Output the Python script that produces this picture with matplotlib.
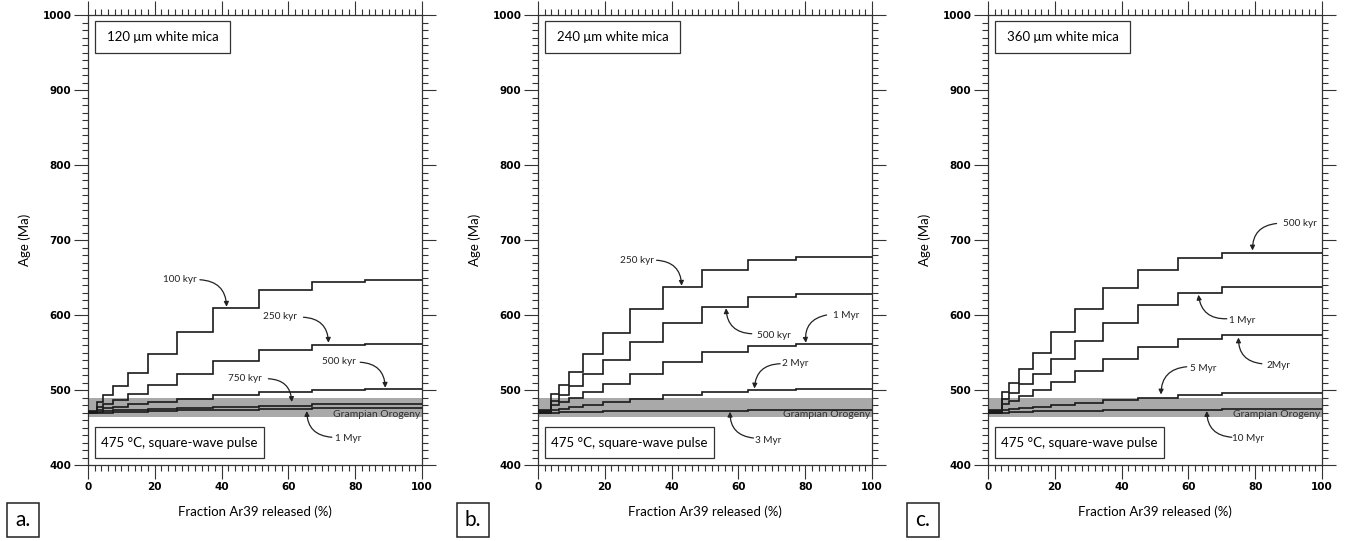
import matplotlib
matplotlib.use('Agg')
import matplotlib.pyplot as plt
from matplotlib.patches import Rectangle
from matplotlib.ticker import MultipleLocator

# step edges (fraction Ar39 released, %) for each grain size
edges_a = [0, 2.6, 4.6, 7.6, 12, 18, 26.5, 37.5, 51.3, 67, 83, 100]
edges_b = [0, 3.8, 6.3, 9.4, 13.6, 19.6, 27.5, 37.3, 49, 62.8, 77.2, 100]
edges_c = [0, 4.3, 6.4, 9.4, 13.4, 18.9, 25.9, 34.3, 44.8, 57, 70, 100]

# apparent ages (Ma) of every step, per pulse duration
ages_a_100kyr = [472, 484, 493, 506, 523, 548, 578, 609, 633, 644, 647]
ages_a_250kyr = [471, 477, 481, 487, 495, 507, 522, 539, 553, 560, 561]
ages_a_500kyr = [470.5, 474, 476, 478, 481, 484, 488, 493, 497, 500, 501]
ages_a_750kyr = [470, 471, 472, 473, 474, 475, 476, 478, 479, 481, 482]
ages_a_1myr = [469.5, 469.5, 470, 470.5, 471, 472, 473, 474, 475, 476, 476]

ages_b_250kyr = [473, 495, 507, 524, 548, 576, 608, 637, 660, 673, 677]
ages_b_500kyr = [472, 485, 493, 505, 521, 540, 564, 590, 611, 624, 628]
ages_b_1myr = [471, 480, 484, 490, 497, 508, 522, 538, 551, 559, 561]
ages_b_2myr = [470, 473, 475, 477, 480, 484, 488, 493, 497, 500, 501]
ages_b_3myr = [469.5, 470, 470.5, 471, 471, 471.5, 472, 472, 472.5, 473, 473]

ages_c_500kyr = [473, 497, 510, 528, 550, 578, 608, 636, 660, 676, 683]
ages_c_1myr = [472, 488, 496, 508, 522, 542, 565, 590, 613, 629, 638]
ages_c_2myr = [471, 481, 486, 492, 500, 511, 525, 541, 557, 568, 573]
ages_c_5myr = [470, 473, 475, 476, 478, 480, 483, 487, 490, 493, 496]
ages_c_10myr = [469.5, 470, 470.5, 471, 471.5, 472, 472.5, 473, 473.5, 474, 475]

grampian = (464, 489)  # Ma

# label, text pos, arrow start, arrow tip, curvature
notes_a = [('100 kyr', (27.5, 647), (33.5, 647), (41.5, 611), -0.45),
           ('250 kyr', (57.5, 598), (64.5, 597), (72, 563), -0.45),
           ('500 kyr', (75, 538), (81.5, 537), (89, 503), -0.45),
           ('750 kyr', (47, 516), (54, 515), (61, 484), -0.45),
           ('1 Myr', (78, 436), (73, 437), (65.5, 472), -0.45)]
notes_b = [('250 kyr', (29.5, 673), (35.5, 673), (43, 639), -0.45),
           ('500 kyr', (70.5, 573), (64, 575), (56.3, 609), -0.45),
           ('1 Myr', (92.4, 600), (86.4, 600), (80.2, 563), 0.45),
           ('2 Myr', (77, 536), (72.5, 535), (64.8, 502), 0.45),
           ('3 Myr', (69, 433), (64.5, 436), (57.5, 471), -0.45)]
notes_c = [('500 kyr', (93.4, 722), (86.4, 722), (79.2, 686), 0.45),
           ('1 Myr', (76, 593), (71.5, 595), (63, 627), -0.45),
           ('2Myr', (87, 533), (82, 535), (75, 570), -0.45),
           ('5 Myr', (64.5, 529), (59.5, 531), (51.8, 494), 0.45),
           ('10 Myr', (78, 436), (73, 437), (65.5, 472), -0.45)]

panels = [
    ('a.', '120 \u03bcm white mica', edges_a,
     [ages_a_100kyr, ages_a_250kyr, ages_a_500kyr, ages_a_750kyr, ages_a_1myr], notes_a),
    ('b.', '240 \u03bcm white mica', edges_b,
     [ages_b_250kyr, ages_b_500kyr, ages_b_1myr, ages_b_2myr, ages_b_3myr], notes_b),
    ('c.', '360 \u03bcm white mica', edges_c,
     [ages_c_500kyr, ages_c_1myr, ages_c_2myr, ages_c_5myr, ages_c_10myr], notes_c),
]

W, H = 1353, 541
fig = plt.figure(figsize=(W / 100, H / 100), dpi=100)

TXT = ['Lato', 'DejaVu Sans']
TICK = ['Liberation Sans Narrow', 'DejaVu Sans']
lefts = [88, 538, 988]

for (letter, size_lbl, edges, curves, notes), left in zip(panels, lefts):
    ax = fig.add_axes([left / W, (H - 465) / H, 334 / W, 450 / H])
    ax.set_xlim(0, 100)
    ax.set_ylim(400, 1000)

    # Grampian Orogeny band
    ax.axhspan(grampian[0], grampian[1], color='#a9a9a9', lw=0, zorder=1)
    ax.text(99.5, 468, 'Grampian Orogeny', ha='right', va='center',
            fontsize=7.5, color='#303030', family=TXT, zorder=2)

    for ages in curves:
        ax.stairs(ages, edges, color='#1a1a1a', lw=1.2, baseline=None, zorder=3)

    for lbl, tpos, start, tip, rad in notes:
        ax.text(tpos[0], tpos[1], lbl, ha='center', va='center', fontsize=7.2,
                family=TXT, color='#222222', zorder=4)
        ax.annotate('', xy=tip, xytext=start,
                    arrowprops=dict(arrowstyle='-|>', color='#222222', lw=0.9,
                                    mutation_scale=7, shrinkA=0, shrinkB=0,
                                    connectionstyle='arc3,rad=%s' % rad),
                    zorder=4)

    # info boxes
    ax.add_patch(Rectangle((2.1, 949), 40.4, 43, fill=False, lw=0.9,
                           ec='#333333', zorder=5))
    ax.text(22.3, 970.5, size_lbl, ha='center', va='center', fontsize=9.5,
            family=TXT, zorder=5)
    ax.add_patch(Rectangle((2.1, 409), 50.6, 42, fill=False, lw=0.9,
                           ec='#333333', zorder=5))
    ax.text(27.4, 430, '475 \u00b0C, square-wave pulse', ha='center',
            va='center', fontsize=9.5, family=TXT, zorder=5)

    ax.xaxis.set_major_locator(MultipleLocator(20))
    ax.xaxis.set_minor_locator(MultipleLocator(2))
    ax.yaxis.set_major_locator(MultipleLocator(100))
    ax.yaxis.set_minor_locator(MultipleLocator(10))
    ax.tick_params(which='both', direction='out', top=True, right=True,
                   color='#333333', width=0.8)
    ax.tick_params(which='major', length=10, labelsize=7.5, pad=2)
    ax.tick_params(which='minor', length=4)
    for t in ax.get_xticklabels() + ax.get_yticklabels():
        t.set_family(TICK)
        t.set_fontweight('bold')
    for s in ax.spines.values():
        s.set_linewidth(0.9)
        s.set_color('#333333')

    ax.set_xlabel('Fraction Ar39 released (%)', fontsize=9.5, family=TXT,
                  labelpad=10)
    ax.set_ylabel('Age (Ma)', fontsize=9.5, family=TXT, labelpad=8)

    # panel letter in a box
    fig.text((left - 81 + 16) / W, 1 - 520 / H, letter, ha='center',
             va='center', fontsize=15, family=TXT)
    fig.add_artist(Rectangle(((left - 81) / W, 1 - 537 / H), 32 / W, 34 / H,
                             transform=fig.transFigure, fill=False, lw=1.1,
                             ec='#222222'))

fig.savefig('out.png', dpi=100)
